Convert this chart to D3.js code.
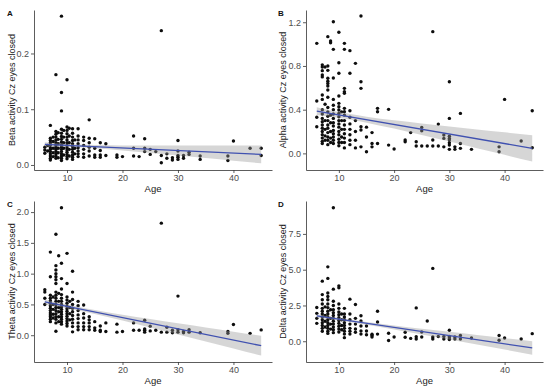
<!DOCTYPE html>
<html><head><meta charset="utf-8">
<script src="https://cdn.jsdelivr.net/npm/d3@7"></script>
<style>
body{margin:0;background:#fff;}
svg{display:block;font-family:"Liberation Sans",Arial,sans-serif;}
</style></head>
<body><svg id="c" width="550" height="389"></svg>
<script>
// ---------- data (age, value) ----------
const betaPts = [
[6,0.032],[6,0.027],[6,0.021],[6.5,0.035],[6.5,0.025],
[7,0.071],[7,0.048],[7,0.044],[7,0.040],[7,0.036],[7,0.031],[7,0.028],[7,0.024],[7,0.020],[7,0.016],[7,0.012],[7,0.009],
[7.5,0.05],[7.5,0.042],[7.5,0.03],[7.5,0.022],[7.5,0.015],
[8,0.162],[8,0.06],[8,0.055],[8,0.05],[8,0.045],[8,0.04],[8,0.036],[8,0.032],[8,0.028],[8,0.024],[8,0.02],[8,0.016],[8,0.012],
[8.4,0.058],[8.4,0.046],[8.4,0.038],[8.4,0.03],[8.4,0.022],[8.4,0.013],
[9,0.267],[9,0.13],[9,0.097],[9,0.064],[9,0.057],[9,0.051],[9,0.046],[9,0.041],[9,0.036],[9,0.032],[9,0.028],[9,0.024],[9,0.02],[9,0.016],[9,0.012],[9,0.008],
[9.4,0.062],[9.4,0.05],[9.4,0.04],[9.4,0.03],[9.4,0.018],
[10,0.153],[10,0.068],[10,0.062],[10,0.056],[10,0.05],[10,0.045],[10,0.04],[10,0.035],[10,0.031],[10,0.027],[10,0.023],[10,0.019],[10,0.015],[10,0.011],
[10.4,0.066],[10.4,0.052],[10.4,0.04],[10.4,0.028],[10.4,0.016],
[11,0.065],[11,0.057],[11,0.05],[11,0.044],[11,0.038],[11,0.033],[11,0.028],[11,0.023],[11,0.018],[11,0.014],[11,0.01],
[11.4,0.045],[11.4,0.03],[11.4,0.02],
[12,0.065],[12,0.052],[12,0.045],[12,0.038],[12,0.031],[12,0.025],[12,0.02],[12,0.015],
[13,0.05],[13,0.044],[13,0.035],[13,0.028],[13,0.02],[13,0.014],
[14,0.081],[14,0.048],[14,0.04],[14,0.032],[14,0.025],[14,0.016],
[15,0.047],[15,0.03],[15,0.018],[15,0.014],
[16,0.04],[16,0.026],[16,0.018],[16,0.014],
[17,0.038],[17,0.017],[19,0.018],[19,0.014],[20,0.015],
[22,0.052],[22,0.03],[22,0.016],[23,0.015],[24,0.047],[24,0.03],[24,0.024],
[25,0.028],[25,0.019],[26,0.024],[27,0.241],[27,0.017],[27,0.004],
[28,0.02],[28,0.012],[29,0.013],[29,0.009],
[30,0.044],[30,0.025],[30,0.017],[30,0.014],[30,0.01],[31,0.017],[31,0.012],
[32,0.023],[32,0.019],[34,0.016],[34,0.01],[39,0.016],[39,0.008],[40,0.043],[43,0.03],[45,0.03],[45,0.017]
];
const alphaPts = [
[6,1.007],[6,0.48],[6,0.33],[6,0.244],
[7,0.81],[7,0.79],[7,0.757],[7,0.717],[7,0.70],[7,0.534],[7,0.494],[7,0.40],[7,0.36],[7,0.32],[7,0.29],[7,0.26],[7,0.23],[7,0.2],[7,0.17],[7,0.14],[7,0.11],[7,0.09],
[7.5,0.79],[7.5,0.45],[7.5,0.3],[7.5,0.22],[7.5,0.16],[7.5,0.12],
[8,1.068],[8,0.80],[8,0.76],[8,0.687],[8,0.66],[8,0.64],[8,0.617],[8,0.58],[8,0.513],[8,0.42],[8,0.38],[8,0.34],[8,0.3],[8,0.26],[8,0.23],[8,0.19],[8,0.15],[8,0.12],[8,0.08],
[8.5,1.028],[8.5,1.013],[8.5,0.35],[8.5,0.28],[8.5,0.2],[8.5,0.14],[8.5,0.1],
[9,1.205],[9,0.952],[9,0.69],[9,0.494],[9,0.44],[9,0.4],[9,0.36],[9,0.32],[9,0.28],[9,0.25],[9,0.21],[9,0.18],[9,0.15],[9,0.12],[9,0.09],
[10,1.108],[10,0.83],[10,0.733],[10,0.525],[10,0.458],[10,0.427],[10,0.397],[10,0.366],[10,0.335],[10,0.3],[10,0.27],[10,0.24],[10,0.2],[10,0.17],[10,0.13],[10,0.1],[10,0.07],
[10.5,0.38],[10.5,0.3],[10.5,0.22],[10.5,0.15],[10.5,0.1],
[11,1.007],[11,0.952],[11,0.595],[11,0.564],[11,0.55],[11,0.412],[11,0.381],[11,0.35],[11,0.3],[11,0.26],[11,0.22],[11,0.18],[11,0.14],[11,0.1],[11,0.05],
[12,0.94],[12,0.733],[12,0.39],[12,0.33],[12,0.27],[12,0.22],[12,0.17],[12,0.12],[12,0.08],
[13,0.824],[13,0.3],[13,0.2],[13,0.12],[13,0.05],
[14,1.257],[14,0.656],[14,0.595],[14,0.244],[14,0.214],[14,0.06],
[15,0.24],[15,0.15],[15,0.015],[16,0.19],[16,0.09],[16,0.06],
[17,0.412],[17,0.381],[17,0.09],[19,0.403],[19,0.076],[20,0.04],
[22,0.122],[22,0.106],[23,0.19],[24,0.106],[24,0.067],[25,0.238],[25,0.207],[25,0.067],[26,0.067],
[27,1.114],[27,0.122],[27,0.067],[28,0.268],[28,0.067],[29,0.168],[29,0.137],[29,0.06],
[30,0.656],[30,0.32],[30,0.157],[30,0.137],[30,0.122],[30,0.098],[30,0.076],[30,0.037],
[31,0.06],[31,0.037],[32,0.366],[32,0.09],[32,0.046],[34,0.037],[39,0.06],[39,0.015],
[40,0.494],[43,0.113],[45,0.39],[45,0.052]
];
const thetaPts = [
[6,0.74],[6,0.70],[6,0.6],[6,0.5],
[7,1.35],[7,0.95],[7,0.65],[7,0.6],[7,0.56],[7,0.52],[7,0.48],[7,0.44],[7,0.4],[7,0.36],[7,0.33],[7,0.3],[7,0.26],[7,0.22],
[7.5,0.62],[7.5,0.5],[7.5,0.42],[7.5,0.34],[7.5,0.28],
[8,1.64],[8,1.13],[8,1.06],[8,1.0],[8,0.95],[8,0.9],[8,0.84],[8,0.7],[8,0.65],[8,0.6],[8,0.55],[8,0.5],[8,0.45],[8,0.4],[8,0.35],[8,0.3],[8,0.26],[8,0.2],[8,0.065],
[8.5,1.29],[8.5,0.68],[8.5,0.55],[8.5,0.45],[8.5,0.38],[8.5,0.3],[8.5,0.22],
[9,2.07],[9,1.17],[9,0.92],[9,0.75],[9,0.66],[9,0.6],[9,0.55],[9,0.5],[9,0.46],[9,0.42],[9,0.38],[9,0.34],[9,0.3],[9,0.26],[9,0.22],[9,0.18],
[10,1.33],[10,0.84],[10,0.62],[10,0.57],[10,0.52],[10,0.47],[10,0.43],[10,0.39],[10,0.35],[10,0.31],[10,0.27],[10,0.23],[10,0.19],[10,0.15],
[10.5,0.55],[10.5,0.45],[10.5,0.35],[10.5,0.25],
[11,1.04],[11,0.7],[11,0.58],[11,0.5],[11,0.44],[11,0.38],[11,0.32],[11,0.26],[11,0.2],[11,0.14],[11,0.055],
[12,0.55],[12,0.48],[12,0.4],[12,0.33],[12,0.27],[12,0.2],[12,0.14],[12,0.09],
[13,0.49],[13,0.35],[13,0.28],[13,0.2],[13,0.14],[13,0.09],
[14,0.3],[14,0.25],[14,0.2],[14,0.14],[14,0.09],
[15,0.22],[15,0.12],[15,0.08],[16,0.15],[16,0.08],[16,0.06],[17,0.2],[17,0.06],
[19,0.18],[19,0.05],[20,0.06],[22,0.2],[22,0.08],[23,0.08],
[24,0.244],[24,0.1],[24,0.08],[24,0.05],[25,0.147],[25,0.07],[26,0.08],
[27,1.82],[27,0.05],[28,0.13],[28,0.05],[29,0.08],[29,0.04],
[30,0.635],[30,0.09],[30,0.05],[31,0.06],[31,0.04],[32,0.09],[32,0.05],[34,0.04],
[39,0.06],[39,0.03],[40,0.174],[43,0.03],[45,0.086]
];
const deltaPts = [
[6,2.36],[6,1.95],[6,1.6],[6,1.25],
[7,4.2],[7,3.26],[7,2.9],[7,2.6],[7,2.3],[7,2.1],[7,1.9],[7,1.7],[7,1.5],[7,1.3],[7,1.1],[7,0.9],[7,0.7],
[7.5,2.4],[7.5,1.8],[7.5,1.4],[7.5,1.0],
[8,5.2],[8,4.39],[8,3.37],[8,3.13],[8,2.9],[8,2.6],[8,2.35],[8,2.1],[8,1.9],[8,1.7],[8,1.5],[8,1.3],[8,1.1],[8,0.9],[8,0.7],[8,0.55],
[8.5,2.2],[8.5,1.6],[8.5,1.2],[8.5,0.85],
[9,9.33],[9,3.64],[9,2.8],[9,2.5],[9,2.2],[9,2.0],[9,1.8],[9,1.6],[9,1.4],[9,1.2],[9,1.0],[9,0.8],[9,0.6],
[10,3.87],[10,3.73],[10,2.6],[10,2.3],[10,2.05],[10,1.85],[10,1.65],[10,1.45],[10,1.25],[10,1.05],[10,0.85],[10,0.65],
[10.5,1.9],[10.5,1.5],[10.5,1.1],[10.5,0.8],
[11,2.3],[11,1.9],[11,1.7],[11,1.5],[11,1.3],[11,1.1],[11,0.9],[11,0.7],[11,0.5],[11,0.25],
[12,2.94],[12,1.9],[12,1.5],[12,1.2],[12,0.9],[12,0.7],[12,0.5],
[13,2.57],[13,1.6],[13,1.2],[13,0.86],[13,0.63],
[14,1.78],[14,1.42],[14,1.07],[14,0.72],[14,0.5],
[15,1.07],[15,0.72],[15,0.45],[16,0.49],[16,0.4],[16,0.3],
[17,2.1],[17,1.35],[17,0.5],[19,0.56],[19,0.05],[20,0.3],
[22,0.63],[22,0.28],[23,0.2],[24,2.33],[24,0.32],[24,0.16],[25,0.65],[25,0.3],[26,1.42],
[27,5.09],[27,0.3],[27,0.16],[28,0.33],[29,0.33],[29,0.16],
[30,0.77],[30,0.33],[30,0.23],[30,0.12],[31,0.3],[31,0.16],[32,0.4],[32,0.16],[34,0.23],
[39,0.4],[39,0.07],[40,0.23],[43,0.16],[45,0.53]
];
// regression fit: value at ages 6 and 45, and CI half-widths at bandAges
const fitAges = [6, 45];
const betaFit = [0.037, 0.019];
const alphaFit = [0.387, 0.046];
const thetaFit = [0.54, -0.17];
const deltaFit = [1.77, -0.47];
const bandAges = [6, 9, 12, 15, 20, 25, 30, 35, 40, 45];
const betaBand = [0.0038, 0.0029, 0.0025, 0.0029, 0.0046, 0.0068, 0.009, 0.0113, 0.0137, 0.016];
const alphaBand = [0.035, 0.027, 0.025, 0.027, 0.038, 0.053, 0.069, 0.086, 0.103, 0.12];
const thetaBand = [0.041, 0.033, 0.03, 0.033, 0.048, 0.069, 0.09, 0.113, 0.136, 0.16];
const deltaBand = [0.123, 0.095, 0.09, 0.095, 0.14, 0.2, 0.265, 0.33, 0.4, 0.47];
// tick labels
const xTicks = [10, 20, 30, 40];
const betaTicks = [0.0, 0.1, 0.2];
const alphaTicks = [0.0, 0.4, 0.8, 1.2];
const thetaTicks = [0.0, 0.5, 1.0, 1.5, 2.0];
const deltaTicks = [0.0, 2.5, 5.0, 7.5];
const tags = ["A", "B", "C", "D"];
const yTitles = ["Beta activity Cz eyes closed", "Alpha activity Cz eyes closed",
                 "Theta activity Cz eyes closed", "Delta activity Cz eyes closed"];

// ---------- layout ----------
const panels = [
  {pts: betaPts, fit: betaFit, band: betaBand, ticks: betaTicks, fmt: d3.format(".1f"),
   box: [34, 272, 10, 170], ydom: [-0.009, 0.278], tagXY: [7, 16], titleX: 12},
  {pts: alphaPts, fit: alphaFit, band: alphaBand, ticks: alphaTicks, fmt: d3.format(".1f"),
   box: [306, 543, 10, 170], ydom: [-0.152, 1.312], tagXY: [278, 16], titleX: 283},
  {pts: thetaPts, fit: thetaFit, band: thetaBand, ticks: thetaTicks, fmt: d3.format(".1f"),
   box: [34, 272, 201, 362], ydom: [-0.435, 2.18], tagXY: [7, 207], titleX: 12},
  {pts: deltaPts, fit: deltaFit, band: deltaBand, ticks: deltaTicks, fmt: d3.format(".1f"),
   box: [306, 543, 201, 362], ydom: [-1.45, 9.8], tagXY: [278, 207], titleX: 283}
];
const svg = d3.select("#c");
const xDom = [4.05, 46.95];

panels.forEach((p, i) => {
  const [l, r, t, b] = p.box;
  const x = d3.scaleLinear().domain(xDom).range([l, r]);
  const y = d3.scaleLinear().domain(p.ydom).range([b, t]);
  const g = svg.append("g");
  const fitAt = a => p.fit[0] + (p.fit[1] - p.fit[0]) * (a - fitAges[0]) / (fitAges[1] - fitAges[0]);
  const bandData = bandAges.map((a, k) => ({a, lo: fitAt(a) - p.band[k], hi: fitAt(a) + p.band[k]}));

  // points
  g.append("g").selectAll("circle").data(p.pts).join("circle")
    .attr("cx", d => x(d[0])).attr("cy", d => y(d[1])).attr("r", 1.7).attr("fill", "#0d0d0d");

  // ribbon
  g.append("path").datum(bandData)
    .attr("d", d3.area().curve(d3.curveMonotoneX).x(d => x(d.a)).y0(d => y(d.lo)).y1(d => y(d.hi)))
    .attr("fill", "rgb(153,153,153)").attr("fill-opacity", 0.4);
  // fit line
  g.append("line").attr("x1", x(fitAges[0])).attr("x2", x(fitAges[1]))
    .attr("y1", y(p.fit[0])).attr("y2", y(p.fit[1]))
    .attr("stroke", "#4051b0").attr("stroke-width", 1.3);

  // axes
  const ax = g.append("g").attr("transform", `translate(0,${b})`)
    .call(d3.axisBottom(x).tickValues(xTicks).tickSize(3).tickSizeOuter(0).tickPadding(2));
  const ay = g.append("g").attr("transform", `translate(${l},0)`)
    .call(d3.axisLeft(y).tickValues(p.ticks).tickFormat(p.fmt).tickSize(3).tickSizeOuter(0).tickPadding(2));
  [ax, ay].forEach(a => {
    a.select(".domain").attr("stroke", "#333").attr("stroke-width", 0.8);
    a.selectAll(".tick line").attr("stroke", "#333").attr("stroke-width", 0.8);
    a.selectAll(".tick text").attr("fill", "#4d4d4d").style("font-size", "9px")
      .style("font-family", '"Liberation Sans",Arial,sans-serif');
  });

  // titles
  g.append("text").attr("x", (l + r) / 2).attr("y", b + 22).attr("text-anchor", "middle")
    .style("font-size", "9.5px").attr("fill", "#222").text("Age");
  g.append("text").attr("transform", `translate(${p.titleX},${(t + b) / 2}) rotate(-90)`)
    .attr("text-anchor", "middle").attr("dy", "0.35em")
    .style("font-size", "9px").attr("fill", "#222").text(yTitles[i]);
  g.append("text").attr("x", p.tagXY[0]).attr("y", p.tagXY[1])
    .style("font-size", "8px").style("font-weight", "bold").attr("fill", "#111").text(tags[i]);
});
</script></body></html>
